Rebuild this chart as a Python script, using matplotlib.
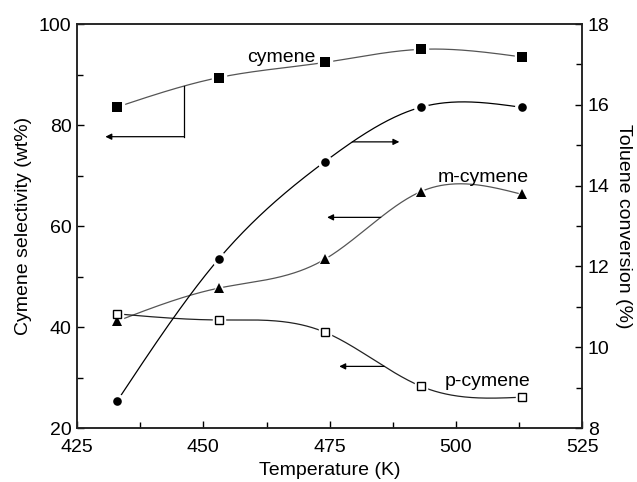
import numpy as np
import matplotlib
matplotlib.use("Agg")
import matplotlib.pyplot as plt
from matplotlib.ticker import MultipleLocator

temperature = [433, 453, 474, 493, 513]
cymene = [83.6, 89.4, 92.4, 95.0, 93.5]
m_cymene = [41.2, 47.7, 53.4, 66.8, 66.3]
p_cymene = [42.6, 41.4, 39.0, 28.3, 26.1]
toluene_conv = [8.68, 12.18, 14.59, 15.94, 15.94]


def natural_spline(x, y, xs):
    # plain natural cubic spline, second derivative zero at both ends
    x = np.asarray(x, float)
    y = np.asarray(y, float)
    n = len(x)
    h = np.diff(x)
    A = np.zeros((n, n))
    b = np.zeros(n)
    A[0, 0] = A[-1, -1] = 1.0
    for i in range(1, n - 1):
        A[i, i - 1] = h[i - 1]
        A[i, i] = 2 * (h[i - 1] + h[i])
        A[i, i + 1] = h[i]
        b[i] = 6 * ((y[i + 1] - y[i]) / h[i] - (y[i] - y[i - 1]) / h[i - 1])
    M = np.linalg.solve(A, b)
    xs = np.atleast_1d(np.asarray(xs, float))
    idx = np.clip(np.searchsorted(x, xs) - 1, 0, n - 2)
    x0, x1 = x[idx], x[idx + 1]
    hh = x1 - x0
    return (M[idx] * (x1 - xs) ** 3 / (6 * hh) + M[idx + 1] * (xs - x0) ** 3 / (6 * hh)
            + (y[idx] / hh - M[idx] * hh / 6) * (x1 - xs)
            + (y[idx + 1] / hh - M[idx + 1] * hh / 6) * (xs - x0))


FS = 14
plt.rcParams["font.family"] = ["Liberation Sans", "DejaVu Sans"]
plt.rcParams["font.size"] = FS

fig = plt.figure(figsize=(6.37, 4.82), dpi=100)
ax = fig.add_axes([0.121, 0.112, 0.793, 0.838])
ax2 = ax.twinx()

xs = np.linspace(temperature[0], temperature[-1], 300)


def draw_series(axis, y, marker, ms, line_color, face="black", mew=0.0):
    axis.plot(xs, natural_spline(temperature, y, xs), color=line_color, lw=0.9, zorder=2)
    # white backdrop leaves a small gap between the curve and each marker
    axis.plot(temperature, y, ls="none", marker=marker, ms=ms + 3.5, color="white",
              mec="white", zorder=3)
    axis.plot(temperature, y, ls="none", marker=marker, ms=ms, mfc=face, mec="black",
              mew=mew, zorder=4)


draw_series(ax, cymene, "s", 6.5, "#555555")
draw_series(ax, m_cymene, "^", 7.0, "#555555")
draw_series(ax, p_cymene, "s", 5.5, "#222222", face="white", mew=1.0)
draw_series(ax2, toluene_conv, "o", 6.2, "black")

arrow = dict(arrowstyle="-|>", lw=0.9, color="black", mutation_scale=9,
             shrinkA=0, shrinkB=0)

# bracket pointing from the cymene curve to the left axis
bx = 446.1
by = natural_spline(temperature, cymene, bx)[0]
ax.plot([bx, bx], [by, 77.7], color="black", lw=0.9, zorder=2)
ax.annotate("", xy=(430.6, 77.7), xytext=(bx, 77.7), arrowprops=arrow)

tx = 479.5
ty = natural_spline(temperature, toluene_conv, tx)[0]
ax2.annotate("", xy=(488.8, ty), xytext=(tx, ty), arrowprops=arrow)

mx = 485.1
my = natural_spline(temperature, m_cymene, mx)[0]
ax.annotate("", xy=(474.5, my), xytext=(mx, my), arrowprops=arrow)

px = 485.8
py = natural_spline(temperature, p_cymene, px)[0]
ax.annotate("", xy=(476.9, py), xytext=(px, py), arrowprops=arrow)

ax.text(465.4, 92.5, "cymene", ha="center", va="baseline", fontsize=FS)
ax.text(505.4, 68.8, "m-cymene", ha="center", va="baseline", fontsize=FS)
ax.text(506.2, 28.4, "p-cymene", ha="center", va="baseline", fontsize=FS)

ax.set_xlim(425, 525)
ax.set_ylim(20, 100)
ax2.set_ylim(8, 18)

ax.xaxis.set_major_locator(MultipleLocator(25))
ax.xaxis.set_minor_locator(MultipleLocator(12.5))
ax.yaxis.set_major_locator(MultipleLocator(20))
ax.yaxis.set_minor_locator(MultipleLocator(10))
ax2.yaxis.set_major_locator(MultipleLocator(2))
ax2.yaxis.set_minor_locator(MultipleLocator(1))

for a in (ax, ax2):
    a.tick_params(which="both", direction="in", width=1.0, labelsize=FS, pad=4)
    a.tick_params(which="major", length=5)
    a.tick_params(which="minor", length=4)
    for s in a.spines.values():
        s.set_linewidth(1.1)
        s.set_color("#222222")
ax.tick_params(axis="x", pad=8)
ax.tick_params(top=False, right=False, which="both")
ax2.tick_params(top=False, which="both")

ax.set_xlabel("Temperature (K)", fontsize=FS, labelpad=4)
ax.set_ylabel("Cymene selectivity (wt%)", fontsize=FS, labelpad=5)
ax2.set_ylabel("Toluene conversion (%)", fontsize=FS, rotation=270, labelpad=16)

fig.savefig("out.png", dpi=100)
